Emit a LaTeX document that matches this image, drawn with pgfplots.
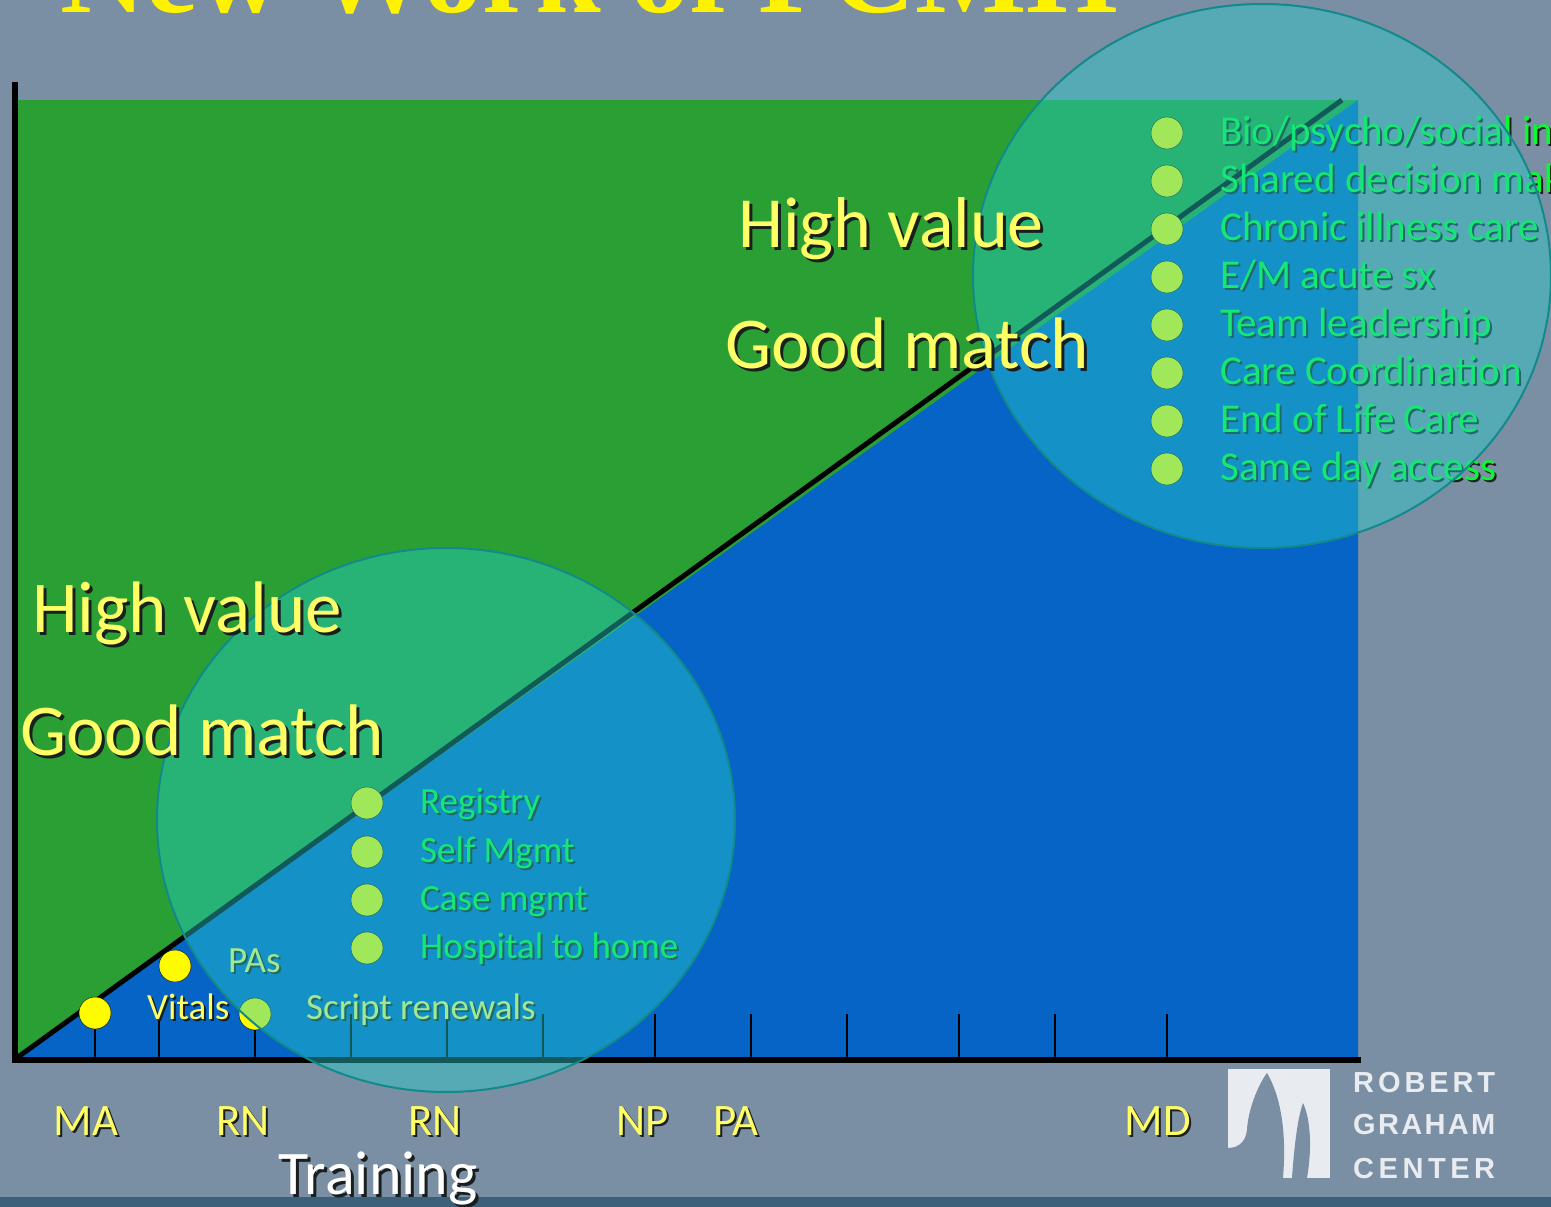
\documentclass[border=0pt]{standalone}
\usepackage{pgfplots}
\pgfplotsset{compat=1.18}
\usepackage{fontspec}
\setmainfont{Carlito}
\newfontfamily\titlefont{Liberation Serif}
\newfontfamily\logofont{Liberation Sans}
\definecolor{bgc}{RGB}{123,143,164}
\definecolor{bandc}{RGB}{60,96,122}
\definecolor{grn}{RGB}{42,160,52}
\definecolor{blu}{RGB}{6,100,198}
\definecolor{circ}{RGB}{39,205,203}
\definecolor{circedge}{RGB}{18,138,138}
\definecolor{ylw}{RGB}{255,255,102}
\definecolor{dotc}{RGB}{255,252,0}
\definecolor{lgrn}{RGB}{10,250,50}
\definecolor{logow}{RGB}{232,236,240}
\definecolor{shc}{RGB}{25,30,30}
\newcommand{\sh}[2][2bp]{\rlap{\kern#1\raisebox{-#1}{\textcolor{shc}{#2}}}#2}
\newcommand{\fs}[1]{\fontsize{#1bp}{#1bp}\selectfont}
\pgfplotsset{geom/.style={at={(0,0)}, anchor=south west, x=1bp, y=1bp,
  xmin=15, xmax=1358, ymin=147, ymax=1107, clip=false}}
\tikzset{lst/.style={anchor=base west, inner sep=0, text=lgrn},
  big/.style={anchor=base west, inner sep=0, text=ylw, font=\fs{72}}}
\begin{document}
\begin{tikzpicture}
\path[use as bounding box] (-15bp,-147bp) rectangle (1536bp,1060bp);
\clip (-15bp,-147bp) rectangle (1536bp,1060bp);
\fill[bgc] (-15bp,-147bp) rectangle (1536bp,1060bp);
\fill[bandc] (-15bp,-147bp) rectangle (1536bp,-137bp);
% filled regions
\begin{axis}[geom, hide axis]
\addplot[draw=none, fill=grn] coordinates {(18,1107) (1358,1107) (1358,150) (18,150)} -- cycle;
\addplot[draw=none, fill=blu] coordinates {(18,150) (1358,1107) (1358,150)} -- cycle;
\end{axis}
% axis, ticks and overlays
\begin{axis}[geom, clip mode=individual,
  axis x line*=bottom, axis y line*=left,
  axis line style={black, line width=6bp, line cap=rect},
  y axis line style={shorten >=-15bp},
  xtick={95,159,255,351,447,543,655,751,847,959,1055,1167},
  xticklabels={\sh{MA\kern6bp},,\sh{RN\kern12bp},,\sh{RN\kern12bp},,\sh{NP\kern12bp},\sh{PA\kern18bp},,,,\sh{MD\kern6bp}},
  ytick=\empty,
  tick align=inside, major tick length=46bp,
  x tick style={black, line width=1.5bp},
  xticklabel style={font=\fs{45}, text=ylw, anchor=base, yshift=-75bp, xshift=-6bp, inner sep=0},
  xlabel={\sh[3bp]{Training}},
  xlabel style={at={(axis description cs:0.2703,-0.1406)}, anchor=base, font=\fs{62}, text=white, inner sep=0},
]
\addplot[black, line width=5bp] coordinates {(18,150) (1342,1107)};
\addplot[only marks, mark=*, mark size=16bp, mark options={fill=dotc, draw=none}] coordinates {
 (95,194) (175,241) (255,193)
 (367,404) (367,355) (367,307) (367,259)
 (1167,1074) (1167,1026) (1167,978) (1167,930) (1167,882) (1167,834) (1167,786) (1167,738)};
% labels of the points
\node[anchor=base west, inner sep=0, text=ylw, font=\fs{37}] at (axis cs:147,188) {\sh{Vitals}};
\node[anchor=base west, inner sep=0, text=ylw, font=\fs{37}] at (axis cs:228,235) {\sh{PAs}};
\node[anchor=base west, inner sep=0, text=ylw, font=\fs{37}] at (axis cs:306,188) {\sh{Script renewals}};
\node[lst, font=\fs{37}] at (axis cs:420,394) {\sh{Registry}};
\node[lst, font=\fs{37}] at (axis cs:420,345) {\sh{Self Mgmt}};
\node[lst, font=\fs{37}] at (axis cs:420,297) {\sh{Case mgmt}};
\node[lst, font=\fs{37}] at (axis cs:420,249) {\sh{Hospital to home}};
\node[lst, font=\fs{41}] at (axis cs:1220,1063) {\sh{Bio/psycho/social integration}};
\node[lst, font=\fs{41}] at (axis cs:1220,1015) {\sh{Shared decision making}};
\node[lst, font=\fs{41}] at (axis cs:1220,967) {\sh{Chronic illness care}};
\node[lst, font=\fs{41}] at (axis cs:1220,919) {\sh{E/M acute sx}};
\node[lst, font=\fs{41}] at (axis cs:1220,871) {\sh{Team leadership}};
\node[lst, font=\fs{41}] at (axis cs:1220,823) {\sh{Care Coordination}};
\node[lst, font=\fs{41}] at (axis cs:1220,775) {\sh{End of Life Care}};
\node[lst, font=\fs{41}] at (axis cs:1220,727) {\sh{Same day access}};
% circles
\fill[circ, fill opacity=0.44] (axis cs:446,387) ellipse [x radius=289, y radius=272];
\draw[circedge, line width=2bp] (axis cs:446,387) ellipse [x radius=289, y radius=272];
\fill[circ, fill opacity=0.44] (axis cs:1262,931) ellipse [x radius=289, y radius=272];
\draw[circedge, line width=2bp] (axis cs:1262,931) ellipse [x radius=289, y radius=272];
% region captions
\node[big] at (axis cs:738,960) {\sh[3bp]{High value}};
\node[big, font=\fs{73}] at (axis cs:725,839) {\sh[3bp]{Good match}};
\node[big, font=\fs{73}] at (axis cs:32,575) {\sh[3bp]{High value}};
\node[big, font=\fs{73}] at (axis cs:20,452) {\sh[3bp]{Good match}};
% title (cut by the top edge)
\node[anchor=base west, inner sep=0, text=yellow, font=\titlefont\bfseries\fs{118}] at (axis cs:60,1195) {New Work of PCMH};
% logo text
\node[anchor=base west, inner sep=0, text=logow, font=\logofont\bfseries\fs{29}] at (axis cs:1353,115) {\makebox[142bp][s]{R\hfill O\hfill B\hfill E\hfill R\hfill T}};
\node[anchor=base west, inner sep=0, text=logow, font=\logofont\bfseries\fs{29}] at (axis cs:1353,73) {\makebox[142bp][s]{G\hfill R\hfill A\hfill H\hfill A\hfill M}};
\node[anchor=base west, inner sep=0, text=logow, font=\logofont\bfseries\fs{29}] at (axis cs:1353,29) {\makebox[142bp][s]{C\hfill E\hfill N\hfill T\hfill E\hfill R}};
\end{axis}
% logo mark (pixel coordinates, y downward)
\begin{scope}[shift={(-15bp,1060bp)}, x=1bp, y=-1bp]
\fill[logow] (1228,1069) rectangle (1330,1178);
\fill[bgc] (1267,1073) .. controls (1280,1095) and (1287,1130) .. (1283,1178)
  -- (1228,1178) -- (1228,1148) .. controls (1240,1148) and (1246,1140) .. (1247,1130)
  .. controls (1248,1110) and (1258,1085) .. (1267,1073) -- cycle;
\fill[bgc] (1303,1103) .. controls (1311,1120) and (1312,1150) .. (1307,1178)
  -- (1292,1178) .. controls (1294,1150) and (1297,1120) .. (1303,1103) -- cycle;
\end{scope}
\end{tikzpicture}
\end{document}
